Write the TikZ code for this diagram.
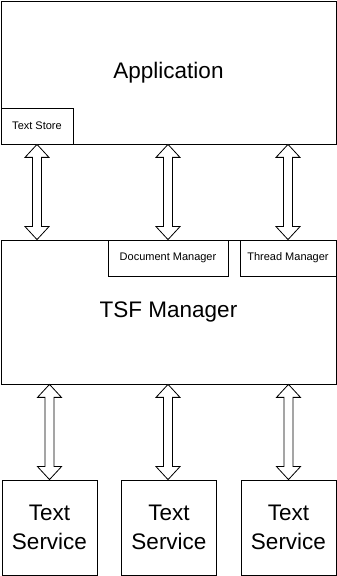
\documentclass[tikz,border=0pt]{standalone}
\usepackage{fontspec}
\setmainfont{Liberation Sans}
\usetikzlibrary{calc}

\tikzset{
  box/.style={draw,line width=0.8pt,inner sep=0pt,font=\fontsize{22.5}{29}\selectfont},
  tab/.style={draw,line width=0.8pt,inner sep=0pt,minimum height=36pt,font=\fontsize{11}{13}\selectfont},
  hollow/.style={draw,line width=0.8pt,fill=white,line join=miter}
}

% hollow two-headed arrow, from the upper end #1 down to #2
\newcommand{\dblarrow}[2]{%
  \draw[hollow] let \p1=(#1), \p2=(#2) in
    (\x1,\y1) -- (\x1+12pt,\y1-13pt) -- (\x1+4.5pt,\y1-13pt)
    -- (\x1+4.5pt,\y2+13pt) -- (\x1+12pt,\y2+13pt) -- (\x1,\y2)
    -- (\x1-12pt,\y2+13pt) -- (\x1-4.5pt,\y2+13pt)
    -- (\x1-4.5pt,\y1-13pt) -- (\x1-12pt,\y1-13pt) -- cycle;}

\begin{document}
\begin{tikzpicture}[x=1pt,y=1pt]
  \useasboundingbox (0,0) rectangle (337,576);
  % top layer
  \node[box,minimum width=335pt,minimum height=143pt] (app) at (168.5,503.5) {Application};
  \node[tab,minimum width=72pt] (store) at (37,450) {Text Store};
  % manager layer
  \node[box,minimum width=335pt,minimum height=144pt] (tsf) at (168.5,264) {TSF Manager};
  \node[tab,minimum width=120pt] (docmgr) at (168,318) {Document Manager};
  \node[tab,minimum width=96pt] (thrmgr) at (288,318) {Thread Manager};
  % services
  \node[box,minimum size=95pt,align=center] (ts1) at (49.5,48.5) {Text\\Service};
  \node[box,minimum size=95pt,align=center] (ts2) at (169,48.5) {Text\\Service};
  \node[box,minimum size=95pt,align=center] (ts3) at (288.5,48.5) {Text\\Service};
  % arrows
  \dblarrow{store.south}{store.south |- tsf.north}
  \dblarrow{docmgr.north |- app.south}{docmgr.north}
  \dblarrow{thrmgr.north |- app.south}{thrmgr.north}
  \dblarrow{ts1.north |- tsf.south}{ts1.north}
  \dblarrow{$(ts2.north |- tsf.south)+(-1,0)$}{ts2.north}
  \dblarrow{ts3.north |- tsf.south}{ts3.north}
\end{tikzpicture}
\end{document}
